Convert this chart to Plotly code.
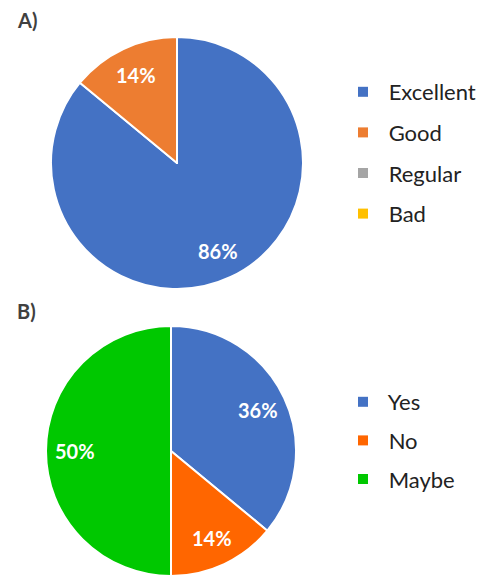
import math
import plotly.graph_objects as go

# Data
labels_a = ["Excellent", "Good", "Regular", "Bad"]
values_a = [86, 14, 0, 0]
colors_a = ["#4472C4", "#ED7D31", "#A5A5A5", "#FFC000"]

labels_b = ["Yes", "No", "Maybe"]
values_b = [36, 14, 50]
colors_b = ["#4472C4", "#FF6600", "#00C800"]

W, H = 487, 576

dom_a = dict(x=[51/W, 303/W], y=[(H-289)/H, (H-37)/H])
dom_b = dict(x=[46/W, 296/W], y=[0, 250/H])

LABEL_FONT = dict(family="Lato", size=20, color="white", weight="bold")


def pct_annotations(vals, dom, frac=0.77):
    """Percentage labels placed along each slice's bisector (clockwise from 12 o'clock)."""
    tot = sum(vals)
    cx = (dom["x"][0] + dom["x"][1]) / 2 * W
    cy = (dom["y"][0] + dom["y"][1]) / 2 * H
    r = min((dom["x"][1] - dom["x"][0]) * W, (dom["y"][1] - dom["y"][0]) * H) / 2
    anns, cum = [], 0.0
    for v in vals:
        if v > 0:
            ang = 2 * math.pi * (cum + v / 2) / tot
            px = cx + frac * r * math.sin(ang)
            py = cy + frac * r * math.cos(ang)
            anns.append(dict(text=f"{round(100*v/tot)}%", x=px / W, y=py / H,
                             xref="paper", yref="paper", showarrow=False,
                             xanchor="center", yanchor="middle", font=LABEL_FONT))
        cum += v
    return anns


fig = go.Figure()

fig.add_trace(go.Pie(
    labels=labels_a, values=values_a, sort=False, direction="clockwise", rotation=0,
    marker=dict(colors=colors_a, line=dict(color="white", width=2)),
    textinfo="none", domain=dom_a, showlegend=False, hoverinfo="label+percent",
))

fig.add_trace(go.Pie(
    labels=labels_b, values=values_b, sort=False, direction="clockwise", rotation=0,
    marker=dict(colors=colors_b, line=dict(color="white", width=2)),
    textinfo="none", domain=dom_b, showlegend=False, hoverinfo="label+percent",
))

# Legend entries (one per category, so spacing can be controlled)
for lab, col in zip(labels_a, colors_a):
    fig.add_trace(go.Scatter(x=[None], y=[None], mode="markers", name=" " + lab,
                             marker=dict(symbol="square", size=10, color=col),
                             legendgroup=lab, legend="legend"))
for lab, col in zip(labels_b, colors_b):
    fig.add_trace(go.Scatter(x=[None], y=[None], mode="markers", name=" " + lab,
                             marker=dict(symbol="square", size=10, color=col),
                             legendgroup="b_" + lab, legend="legend2"))

legend_common = dict(font=dict(family="Lato", size=22, color="#222222"),
                     traceorder="grouped", bgcolor="rgba(0,0,0,0)",
                     xanchor="left", yanchor="top", itemclick=False, itemdoubleclick=False)

annotations = [
    dict(text="A)", x=15/W, y=1 - 20/H, xref="paper", yref="paper", xanchor="left",
         yanchor="middle", showarrow=False,
         font=dict(family="Lato", size=20, color="#404040", weight="bold")),
    dict(text="B)", x=15/W, y=1 - 311/H, xref="paper", yref="paper", xanchor="left",
         yanchor="middle", showarrow=False,
         font=dict(family="Lato", size=20, color="#404040", weight="bold")),
]
annotations += pct_annotations(values_a, dom_a)
annotations += pct_annotations(values_b, dom_b)

fig.update_layout(
    width=W, height=H, margin=dict(l=0, r=0, t=0, b=0),
    paper_bgcolor="white", plot_bgcolor="white",
    xaxis=dict(visible=False), yaxis=dict(visible=False),
    legend=dict(x=343/W, y=1 - 71/H, tracegroupgap=9, **legend_common),
    legend2=dict(x=343/W, y=1 - 381/H, tracegroupgap=7, **legend_common),
    annotations=annotations,
)

fig.write_html("out.html")
